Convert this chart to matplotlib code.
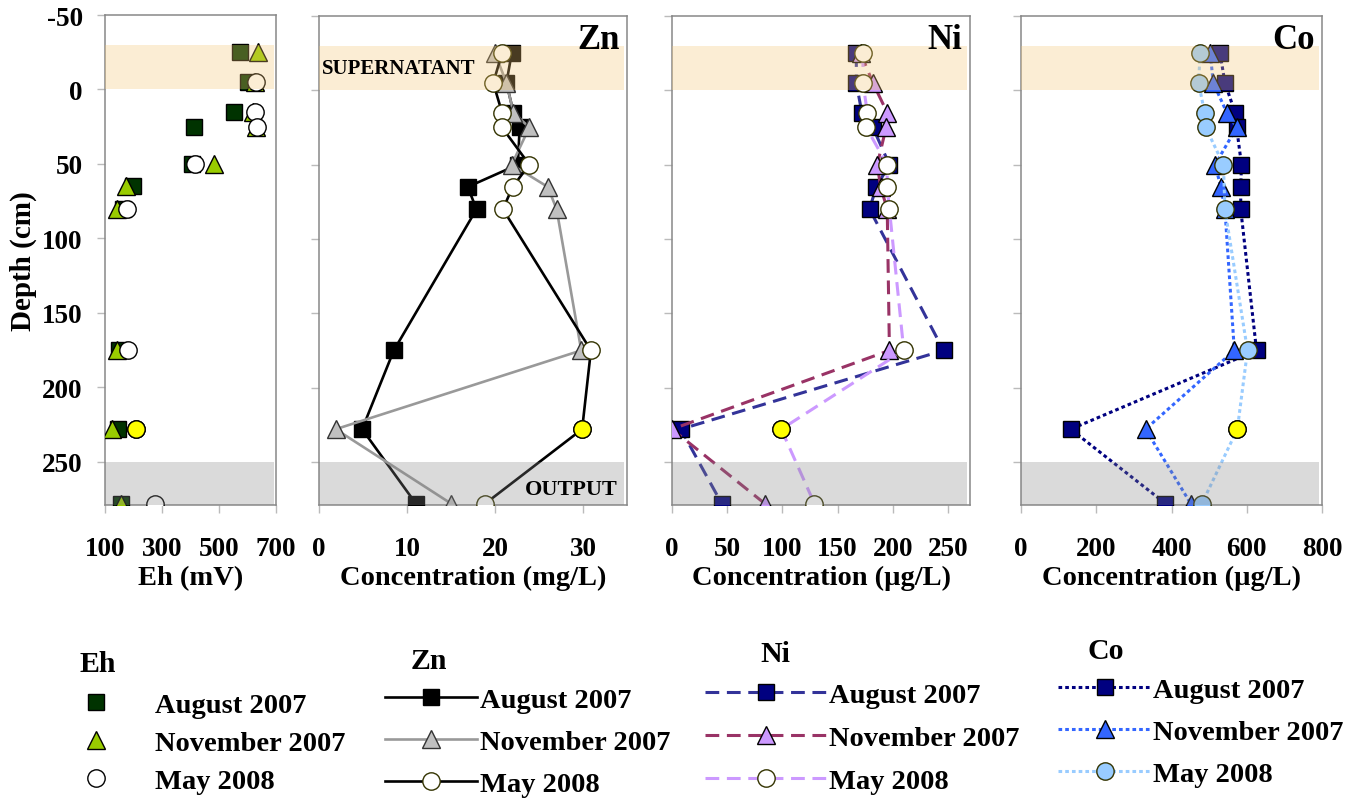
import numpy as np
import matplotlib
matplotlib.use("Agg")
import matplotlib.pyplot as plt

plt.rcParams['font.family'] = ['Liberation Serif', 'DejaVu Serif']
plt.rcParams['font.weight'] = 'bold'
plt.rcParams['axes.unicode_minus'] = False

# sampling depths (cm), shared by all profiles
depth = [-25, -5, 15, 25, 50, 65, 80, 175, 228, 278]
months = ['August 2007', 'November 2007', 'May 2008']

# Eh (mV)
eh_aug = [574, 603, 554, 412, 404, 199, 164, 150, 147, 156]
eh_nov = [638, 625, 620, 630, 482, 174, 141, 143, 123, 156]
eh_may = [np.nan, 629, 626, 634, 416, np.nan, 176, 182, 208, 275]

# Zn (mg/L)
zn_aug = [21.9, 21.3, 22.1, 22.8, 22.6, 16.9, 17.9, 8.5, 4.9, 11.0]
zn_nov = [20.0, 21.3, 22.1, 23.9, 21.9, 26.0, 27.0, 29.8, 1.9, 15.0]
zn_may = [20.8, 19.8, 20.8, 20.8, 23.9, 22.0, 20.9, 30.9, 29.9, 18.9]

# Ni (ug/L)
ni_aug = [167, 167, 172, 182, 197, 185, 179, 246, 8, 45]
ni_nov = [171, 182, 195, 194, 186, 189, 195, 197, 0, 84]
ni_may = [173, 173, 177, 176, 195, 195, 197, 210, 99, 129]

# Co (ug/L)
co_aug = [529, 542, 569, 573, 586, 584, 584, 626, 132, 384]
co_nov = [503, 511, 547, 573, 516, 531, 542, 567, 331, 451]
co_may = [476, 472, 488, 491, 538, np.nan, 542, 602, 575, 481]

# the May 2008 sample shown with a yellow marker
highlight_depth = 228

FS = 20.5      # labels / legend
TFS = 19.5     # tick labels
W, H = 1362, 803


def px_axes(left, right, top, bottom):
    return [left / W, 1 - bottom / H, (right - left) / W, (bottom - top) / H]


def profile(ax, x, style):
    x = np.asarray(x, dtype=float)
    y = np.asarray(depth, dtype=float)
    ok = ~np.isnan(x)
    line, = ax.plot(x[ok], y[ok], zorder=3, **style)
    return line


def highlight(ax, x, ms=12.5):
    i = depth.index(highlight_depth)
    ax.plot(x[i], depth[i], 'o', ms=ms, mfc='#FFFF00', mec='black',
            mew=1.0, zorder=4)


def setup(ax, xlim, xticks, xlabel, ylabels=False):
    ax.set_xlim(*xlim)
    ax.set_ylim(279, -50)
    ax.set_xticks(xticks)
    ax.set_yticks(range(-50, 251, 50))
    ax.tick_params(direction='out', length=6, color='#BBBBBB', width=1,
                   labelsize=TFS, pad=16)
    ax.tick_params(axis='y', pad=10)
    if not ylabels:
        ax.set_yticklabels([])
    for s in ax.spines.values():
        s.set_color('#888888')
        s.set_linewidth(1.1)
    ax.set_xlabel(xlabel, fontsize=FS, fontweight='bold', labelpad=3)
    # supernatant and output zones drawn over the data, semi-transparent
    ax.axhspan(-30, 0, xmin=0, xmax=0.99, color='#F5C673', alpha=0.3,
               lw=0, zorder=5)
    ax.axhspan(250, 279, xmin=0, xmax=0.99, color='#858585', alpha=0.3,
               lw=0, zorder=5)


fig = plt.figure(figsize=(W / 100, H / 100), dpi=100)
ax1 = fig.add_axes(px_axes(105, 276, 16, 506))
ax2 = fig.add_axes(px_axes(319, 627, 17, 506))
ax3 = fig.add_axes(px_axes(672, 970, 17, 506))
ax4 = fig.add_axes(px_axes(1021, 1322, 17, 506))

# ---- Eh
eh_lines = [
    profile(ax1, eh_aug, dict(ls='none', marker='s', ms=12, mfc='#003300', mec='black', mew=1.0)),
    profile(ax1, eh_nov, dict(ls='none', marker='^', ms=13, mfc='#99CC00', mec='black', mew=1.0)),
    profile(ax1, eh_may, dict(ls='none', marker='o', ms=12.5, mfc='white', mec='black', mew=1.0)),
]
highlight(ax1, eh_may)
setup(ax1, (100, 700), [100, 300, 500, 700], 'Eh (mV)', ylabels=True)
ax1.set_ylabel('Depth (cm)', fontsize=FS + 0.5, fontweight='bold', labelpad=4)

# ---- Zn
zn_lines = [
    profile(ax2, zn_aug, dict(color='black', lw=1.9, marker='s', ms=12, mfc='black', mec='black', mew=1.0)),
    profile(ax2, zn_nov, dict(color='#999999', lw=1.9, marker='^', ms=13, mfc='#C0C0C0', mec='#333333', mew=1.0)),
    profile(ax2, zn_may, dict(color='black', lw=1.9, marker='o', ms=12.5, mfc='white', mec='#333300', mew=1.0)),
]
highlight(ax2, zn_may)
setup(ax2, (0, 35), [0, 10, 20, 30], 'Concentration (mg/L)')
ax2.text(0.975, 0.985, 'Zn', transform=ax2.transAxes, ha='right', va='top',
         fontsize=25, fontweight='bold', zorder=6)
ax2.text(0.01, -15, 'SUPERNATANT', transform=ax2.get_yaxis_transform(),
         ha='left', va='center', fontsize=15, fontweight='bold', zorder=6)
ax2.text(0.97, 268, 'OUTPUT', transform=ax2.get_yaxis_transform(),
         ha='right', va='center', fontsize=16, fontweight='bold', zorder=6)

# ---- Ni
ni_dash = (4.5, 2.5)
ni_lines = [
    profile(ax3, ni_aug, dict(color='#333399', lw=2.2, dashes=ni_dash, marker='s', ms=12, mfc='#000080', mec='black', mew=1.0)),
    profile(ax3, ni_nov, dict(color='#993366', lw=2.2, dashes=ni_dash, marker='^', ms=13, mfc='#CC99FF', mec='black', mew=1.0)),
    profile(ax3, ni_may, dict(color='#CC99FF', lw=2.2, dashes=ni_dash, marker='o', ms=12.5, mfc='white', mec='#333300', mew=1.0)),
]
highlight(ax3, ni_may)
setup(ax3, (0, 270), [0, 50, 100, 150, 200, 250], 'Concentration (µg/L)')
ax3.text(0.975, 0.985, 'Ni', transform=ax3.transAxes, ha='right', va='top',
         fontsize=25, fontweight='bold', zorder=6)

# ---- Co
co_dash = (1.2, 1.0)
co_lines = [
    profile(ax4, co_aug, dict(color='#000080', lw=2.2, dashes=co_dash, marker='s', ms=12, mfc='#000080', mec='black', mew=1.0)),
    profile(ax4, co_nov, dict(color='#3366FF', lw=2.2, dashes=co_dash, marker='^', ms=13, mfc='#3366FF', mec='black', mew=1.0)),
    profile(ax4, co_may, dict(color='#99CCFF', lw=2.2, dashes=co_dash, marker='o', ms=12.5, mfc='#99CCFF', mec='#333300', mew=1.0)),
]
highlight(ax4, co_may)
setup(ax4, (0, 800), [0, 200, 400, 600, 800], 'Concentration (µg/L)')
ax4.text(0.975, 0.985, 'Co', transform=ax4.transAxes, ha='right', va='top',
         fontsize=25, fontweight='bold', zorder=6)

# ---- legends below the panels
legend_specs = [
    ('Eh', eh_lines, 73, 744, 1.6, 1.27, 0.42, 98, 665),
    ('Zn', zn_lines, 385, 743, 3.23, 0.1, 0.58, 429, 662),
    ('Ni', ni_lines, 705, 739, 4.3, 0.07, 0.6, 775, 655),
    ('Co', co_lines, 1058, 733, 3.3, 0.05, 0.56, 1106, 652),
]
for title, handles, x0, yc, hl, tp, ls, tx, ty in legend_specs:
    fig.legend(handles, months, loc='center left',
               bbox_to_anchor=(x0 / W, 1 - yc / H), frameon=False,
               borderpad=0, borderaxespad=0, numpoints=1,
               handlelength=hl, handletextpad=tp, labelspacing=ls,
               prop={'size': FS, 'weight': 'bold'})
    fig.text(tx / W, 1 - ty / H, title, ha='center', va='center',
             fontsize=FS + 1, fontweight='bold')

fig.savefig('out.png', dpi=100)
